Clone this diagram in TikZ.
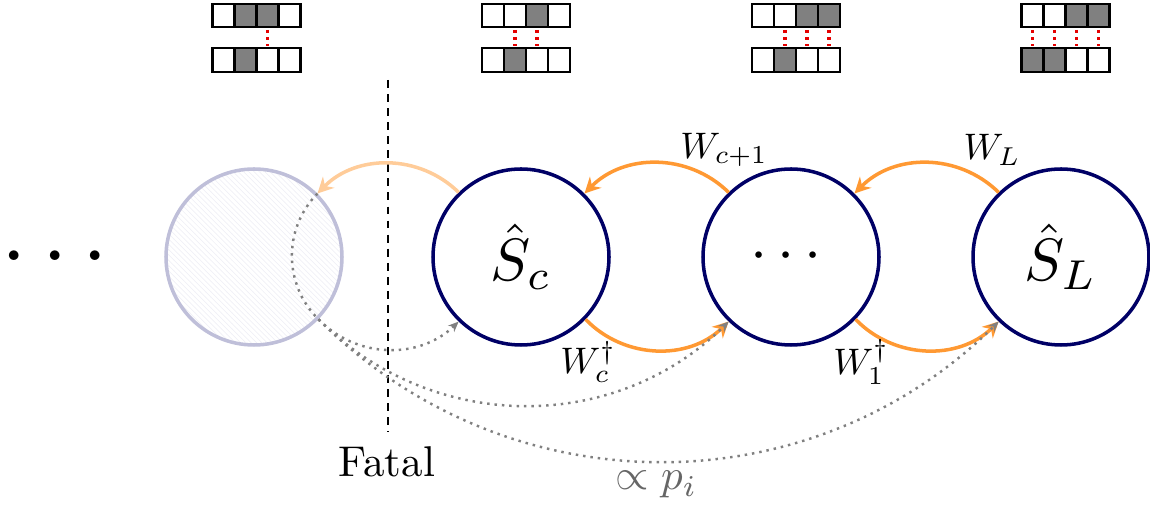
\documentclass[tikz,border=0pt]{standalone}
\usepackage{graphicx}
\usepackage{amsmath}
\usetikzlibrary{arrows.meta,patterns}
\definecolor{navy}{RGB}{0,0,102}
\tikzset{
  statenode/.style={circle, draw=navy, line width=2pt, minimum size=3.52cm, inner sep=0pt},
  fadednode/.style={statenode, draw=navy!25, pattern=north west lines, pattern color=navy!6},
  trans/.style={line width=2pt, draw=orange!80, -{Stealth[length=9pt,width=9pt]}},
  jump/.style={draw=gray, line width=1.4pt, dash pattern=on 1.4pt off 2.8pt, -{Stealth[length=6pt,width=5pt]}},
  cell/.style={draw=black, line width=1.3pt},
  pairline/.style={draw=red!90!black, line width=1.8pt, dash pattern=on 1.8pt off 2.2pt}
}
% one pair of bit rows above a state: x, top fills, bottom fills, red links
\newcommand{\bitpair}[4]{
  \foreach \f [count=\i from 0] in {#2}
    \draw[cell, fill=\f] ({#1+\i*0.44-0.88},9.62) rectangle ++(0.44,0.46);
  \foreach \f [count=\i from 0] in {#3}
    \draw[cell, fill=\f] ({#1+\i*0.44-0.88},8.72) rectangle ++(0.44,0.48);
  \foreach \i in {#4}
    \draw[pairline] ({#1+\i*0.44-0.66},9.56) -- ({#1+\i*0.44-0.66},9.24);
}
\begin{document}
\begin{tikzpicture}

            \useasboundingbox (0,0) rectangle (23,10.16);

            % Bit patterns
            \bitpair{5.13}{white,gray,gray,white}{white,gray,white,white}{2}
            \bitpair{10.52}{white,white,gray,white}{white,gray,white,white}{1,2}
            \bitpair{15.92}{white,white,gray,gray}{white,gray,white,white}{1,2,3}
            \bitpair{21.31}{white,white,gray,gray}{gray,gray,white,white}{0,1,2,3}

            % States
            \node (more) at (1.25,5.0) {\scalebox{5.2}{$\cdots$}};
            \node[fadednode] (faded) at (5.08,5.02) {};
            \node[statenode] (Sc) at (10.42,5.02) {\scalebox{3.4}{$\hat{S}_c$}};
            \node[statenode] (mid) at (15.82,5.02) {\scalebox{3.5}{$\cdots$}};
            \node[statenode] (SL) at (21.22,5.02) {\scalebox{3.4}{$\hat{S}_L$}};

            % Fatal cut
            \coordinate (cut) at (7.76,8.56);
            \coordinate (cutend) at (7.76,1.52);
            \draw[line width=1.2pt, dash pattern=on 4.5pt off 3.5pt] (cut) -- (cutend);
            \node[anchor=base] (fatal) at (7.74,0.62) {\scalebox{2.45}{Fatal}};

            % Forward transitions
            \draw[trans] (SL.134) to[bend right=45] (mid.45);
            \draw[trans] (mid.134) to[bend right=45] (Sc.45);
            \draw[trans, draw=orange!40] (Sc.134) to[bend right=45] (faded.45);
            \node (wl) at (19.84,7.16) {\scalebox{2.1}{$W_L$}};
            \node (wc1) at (14.48,7.16) {\scalebox{2.1}{$W_{c+1}$}};

            % Backward transitions
            \draw[trans] (Sc.-44) to[bend right=45] (mid.226);
            \draw[trans] (mid.-44) to[bend right=45] (SL.226);
            \node (wcd) at (11.76,2.92) {\scalebox{2.1}{$W_c^\dagger$}};
            \node (w1d) at (17.22,2.92) {\scalebox{2.1}{$W_1^\dagger$}};

            % Jumps out of the fatal state
            \draw[jump, -] (faded.45) to[bend right=45] (faded.-44);
            \draw[jump] (faded.-44) to[bend right=45] (Sc.226);
            \draw[jump] (faded.-44) to[bend right=45] (mid.226);
            \draw[jump] (faded.-44) to[bend right=45] (SL.226);
            \node[text=black!60, anchor=base] (prop) at (13.13,0.36) {\scalebox{2.45}{$\propto p_i$}};

\end{tikzpicture}
\end{document}
